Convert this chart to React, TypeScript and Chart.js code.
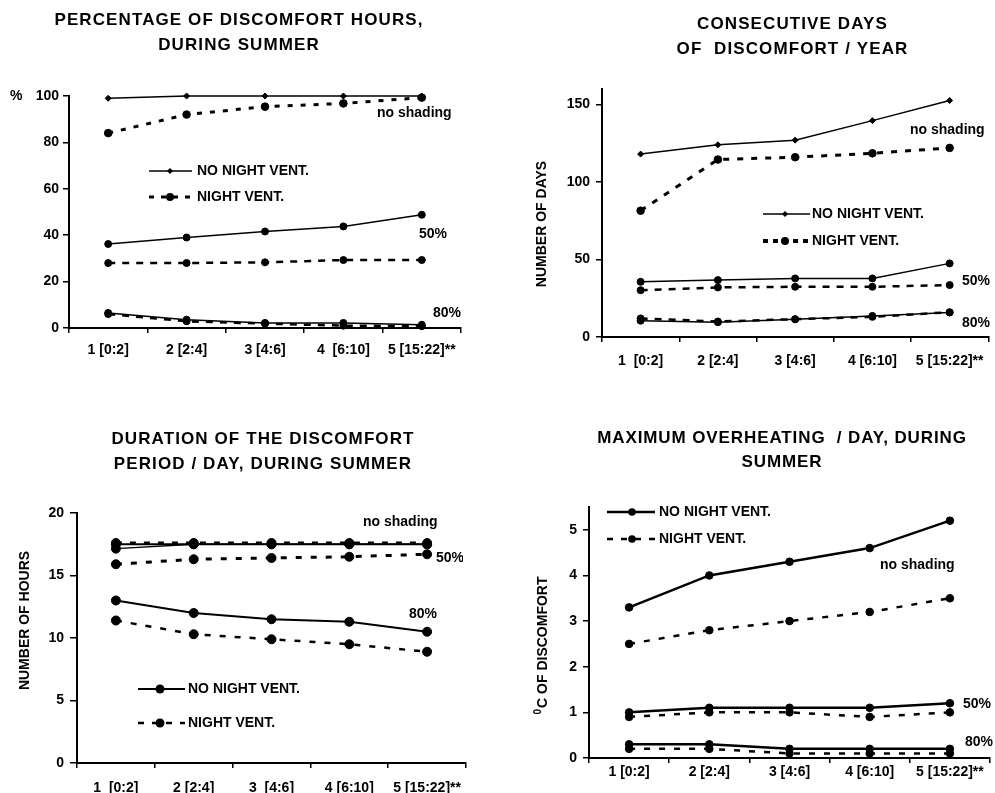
import React, { useEffect, useRef } from 'react';
import { Chart, registerables } from 'chart.js';

Chart.register(...registerables);

const FONT = '"Liberation Sans", Arial, Helvetica, sans-serif';

// ---------- DATA ----------
const CATS_1 = ['1 [0:2]', '2 [2:4]', '3 [4:6]', '4  [6:10]', '5 [15:22]**'];
const CATS_2 = ['1  [0:2]', '2 [2:4]', '3 [4:6]', '4 [6:10]', '5 [15:22]**'];
const CATS_3 = ['1  [0:2]', '2 [2:4]', '3  [4:6]', '4 [6:10]', '5 [15:22]**'];
const CATS_4 = ['1 [0:2]', '2 [2:4]', '3 [4:6]', '4 [6:10]', '5 [15:22]**'];

// Chart 1: percentage of discomfort hours (%)
const PCT_NONV_NOSHADE = [99, 100, 100, 100, 100];
const PCT_NV_NOSHADE = [84, 92, 95.4, 96.8, 99.3];
const PCT_NONV_50 = [36.2, 39, 41.6, 43.8, 48.8];
const PCT_NV_50 = [28, 28, 28.3, 29.3, 29.3];
const PCT_NONV_80 = [6.5, 3.6, 2.2, 2.2, 1.4];
const PCT_NV_80 = [6, 2.9, 1.9, 1, 0.8];

// Chart 2: consecutive days of discomfort / year
const DAYS_NONV_NOSHADE = [118, 124, 127, 139.6, 152.6];
const DAYS_NV_NOSHADE = [81.5, 114.5, 116, 118.5, 122];
const DAYS_NONV_50 = [35.6, 36.7, 37.8, 37.8, 47.5];
const DAYS_NV_50 = [30.2, 32, 32.4, 32.4, 33.5];
const DAYS_NONV_80 = [10.5, 9.5, 11.4, 13.6, 15.8];
const DAYS_NV_80 = [12, 10, 11.5, 13, 16];

// Chart 3: duration of discomfort period / day (hours)
const HRS_NONV_NOSHADE = [17.5, 17.5, 17.5, 17.5, 17.5];
const HRS_NV_NOSHADE = [17.6, 17.6, 17.6, 17.6, 17.6];
const HRS_NONV_50 = [17.15, 17.5, 17.5, 17.5, 17.5];
const HRS_NV_50 = [15.9, 16.3, 16.4, 16.5, 16.7];
const HRS_NONV_80 = [13.0, 12.0, 11.5, 11.3, 10.5];
const HRS_NV_80 = [11.4, 10.3, 9.9, 9.5, 8.9];

// Chart 4: maximum overheating / day (°C)
const DEG_NONV_NOSHADE = [3.3, 4.0, 4.3, 4.6, 5.2];
const DEG_NV_NOSHADE = [2.5, 2.8, 3.0, 3.2, 3.5];
const DEG_NONV_50 = [1.0, 1.1, 1.1, 1.1, 1.2];
const DEG_NV_50 = [0.9, 1.0, 1.0, 0.9, 1.0];
const DEG_NONV_80 = [0.3, 0.3, 0.2, 0.2, 0.2];
const DEG_NV_80 = [0.2, 0.2, 0.1, 0.1, 0.1];

const LEGEND_SOLID = 'NO NIGHT VENT.';
const LEGEND_DASHED = 'NIGHT VENT.';

// ---------- DECORATION PLUGIN ----------
function drawMarker(ctx, kind, x, y, r) {
  ctx.beginPath();
  if (kind === 'rectRot') {
    ctx.moveTo(x, y - r);
    ctx.lineTo(x + r, y);
    ctx.lineTo(x, y + r);
    ctx.lineTo(x - r, y);
    ctx.closePath();
  } else {
    ctx.arc(x, y, r, 0, Math.PI * 2);
  }
  ctx.fill();
}

const decorPlugin = {
  id: 'decor',
  afterDraw(chart, _args, o) {
    const ctx = chart.ctx;
    ctx.save();
    ctx.fillStyle = '#000';
    ctx.strokeStyle = '#000';
    // title
    if (o.title) {
      ctx.font = `bold 17px ${FONT}`;
      ctx.letterSpacing = `${o.title.spacing}px`;
      ctx.textAlign = 'center';
      ctx.textBaseline = 'middle';
      o.title.lines.forEach((t, i) => ctx.fillText(t, o.title.x, o.title.y[i]));
      ctx.letterSpacing = '0px';
    }
    // unit label
    if (o.unit) {
      ctx.font = `bold 14px ${FONT}`;
      ctx.textAlign = 'left';
      ctx.textBaseline = 'middle';
      ctx.fillText(o.unit.text, o.unit.x, o.unit.y);
    }
    // rotated y title
    if (o.yTitle) {
      ctx.save();
      ctx.translate(o.yTitle.x, o.yTitle.y);
      ctx.rotate(-Math.PI / 2);
      ctx.textBaseline = 'middle';
      ctx.textAlign = 'left';
      ctx.font = `bold 14px ${FONT}`;
      const wMain = ctx.measureText(o.yTitle.text).width;
      let wSup = 0;
      if (o.yTitle.sup) {
        ctx.font = `bold 10px ${FONT}`;
        wSup = ctx.measureText(o.yTitle.sup).width + 1;
      }
      const start = -(wMain + wSup) / 2;
      if (o.yTitle.sup) {
        ctx.fillText(o.yTitle.sup, start, -5);
      }
      ctx.font = `bold 14px ${FONT}`;
      ctx.fillText(o.yTitle.text, start + wSup, 0);
      ctx.restore();
    }
    // legend
    if (o.legend) {
      ctx.font = `bold 14px ${FONT}`;
      ctx.textAlign = 'left';
      ctx.textBaseline = 'middle';
      o.legend.forEach((it) => {
        ctx.save();
        ctx.lineWidth = it.width;
        ctx.setLineDash(it.dash || []);
        ctx.beginPath();
        ctx.moveTo(it.x1, it.y);
        ctx.lineTo(it.x2, it.y);
        ctx.stroke();
        ctx.restore();
        drawMarker(ctx, it.marker, it.mx, it.y, it.r);
        ctx.fillText(it.text, it.tx, it.y);
      });
    }
    // notes
    if (o.notes) {
      ctx.font = `bold 14px ${FONT}`;
      ctx.textAlign = 'left';
      ctx.textBaseline = 'middle';
      o.notes.forEach((n) => {
        ctx.save();
        if (n.clipRight) {
          ctx.beginPath();
          ctx.rect(0, 0, n.clipRight, chart.height);
          ctx.clip();
        }
        ctx.fillText(n.text, n.x, n.y);
        ctx.restore();
      });
    }
    ctx.restore();
  },
};

// ---------- CONFIG BUILDER ----------
function makeConfig(spec) {
  const datasets = spec.series.map((s) => ({
    data: s.data,
    borderColor: '#000',
    backgroundColor: '#000',
    pointBackgroundColor: '#000',
    pointBorderColor: '#000',
    borderWidth: s.width,
    borderDash: s.dash || [],
    pointStyle: s.marker,
    pointRadius: s.r,
    pointBorderWidth: 1,
    tension: 0,
    fill: false,
    clip: false,
  }));
  return {
    type: 'line',
    data: { labels: spec.labels, datasets },
    plugins: [decorPlugin],
    options: {
      responsive: false,
      animation: false,
      events: [],
      devicePixelRatio: 1,
      layout: { padding: spec.padding },
      plugins: {
        legend: { display: false },
        title: { display: false },
        tooltip: { enabled: false },
        decor: spec.decor,
      },
      scales: {
        x: {
          type: 'category',
          offset: true,
          grid: {
            display: true,
            drawOnChartArea: false,
            drawTicks: true,
            tickLength: 5,
            color: '#000',
            lineWidth: 1.5,
            offset: true,
          },
          border: { display: true, color: '#000', width: 2 },
          ticks: {
            color: '#000',
            font: { family: FONT, size: 14, weight: 'bold' },
            padding: spec.xPad,
            maxRotation: 0,
            autoSkip: false,
          },
          afterFit: (scale) => {
            scale.height = spec.xHeight;
          },
        },
        y: {
          type: 'linear',
          min: spec.yMin,
          max: spec.yMax,
          grid: {
            display: true,
            drawOnChartArea: false,
            drawTicks: true,
            tickLength: spec.yTickLen,
            color: '#000',
            lineWidth: 1.5,
          },
          border: { display: true, color: '#000', width: 2 },
          ticks: {
            stepSize: spec.yStep,
            includeBounds: false,
            color: '#000',
            font: { family: FONT, size: 14, weight: 'bold' },
            padding: spec.yPad,
          },
          afterFit: (scale) => {
            scale.width = spec.yWidth;
          },
        },
      },
    },
  };
}

// ---------- SPECS ----------
const spec1 = {
  labels: CATS_1,
  series: [
    { data: PCT_NONV_NOSHADE, width: 1.5, marker: 'rectRot', r: 3 },
    { data: PCT_NV_NOSHADE, width: 3, dash: [5, 8], marker: 'circle', r: 3.8 },
    { data: PCT_NONV_50, width: 1.5, marker: 'circle', r: 3.5 },
    { data: PCT_NV_50, width: 2.5, dash: [7, 7], marker: 'circle', r: 3.5 },
    { data: PCT_NONV_80, width: 1.5, marker: 'circle', r: 3.5 },
    { data: PCT_NV_80, width: 2.5, dash: [7, 7], marker: 'circle', r: 3.5 },
  ],
  yMin: 0, yMax: 100, yStep: 20,
  yWidth: 69, xHeight: 40, xPad: 9, yTickLen: 6, yPad: 4,
  padding: { left: 0, top: 96, right: 36, bottom: 28 },
  decor: {
    title: { lines: ['PERCENTAGE OF DISCOMFORT HOURS,', 'DURING SUMMER'], x: 239, y: [20.5, 45], spacing: 1.1 },
    unit: { text: '%', x: 10, y: 96 },
    legend: [
      { text: LEGEND_SOLID, y: 171, x1: 149, x2: 192, mx: 170, tx: 197, width: 1.5, marker: 'rectRot', r: 3 },
      { text: LEGEND_DASHED, y: 197, x1: 149, x2: 192, mx: 170, tx: 197, width: 3, dash: [5, 7], marker: 'circle', r: 4 },
    ],
    notes: [
      { text: 'no shading', x: 377, y: 113 },
      { text: '50%', x: 419, y: 234 },
      { text: '80%', x: 433, y: 313 },
    ],
  },
};

const spec2 = {
  labels: CATS_2,
  series: [
    { data: DAYS_NONV_NOSHADE, width: 1.5, marker: 'rectRot', r: 3 },
    { data: DAYS_NV_NOSHADE, width: 3, dash: [6, 8], marker: 'circle', r: 3.8 },
    { data: DAYS_NONV_50, width: 1.5, marker: 'circle', r: 3.5 },
    { data: DAYS_NV_50, width: 2.5, dash: [7, 7], marker: 'circle', r: 3.5 },
    { data: DAYS_NONV_80, width: 1.5, marker: 'circle', r: 3.5 },
    { data: DAYS_NV_80, width: 2.5, dash: [7, 7], marker: 'circle', r: 3.5 },
  ],
  yMin: 0, yMax: 160, yStep: 50,
  yWidth: 105, xHeight: 40, xPad: 11, yTickLen: 6, yPad: 6,
  padding: { left: 0, top: 89, right: 3, bottom: 19 },
  decor: {
    title: { lines: ['CONSECUTIVE DAYS', 'OF  DISCOMFORT / YEAR'], x: 295.5, y: [24.5, 49], spacing: 1.1 },
    yTitle: { text: 'NUMBER OF DAYS', x: 44.7, y: 224 },
    legend: [
      { text: LEGEND_SOLID, y: 214, x1: 266, x2: 313, mx: 288, tx: 315, width: 1.5, marker: 'rectRot', r: 3 },
      { text: LEGEND_DASHED, y: 241, x1: 266, x2: 313, mx: 288, tx: 315, width: 4, dash: [5, 5], marker: 'circle', r: 4 },
    ],
    notes: [
      { text: 'no shading', x: 413, y: 130 },
      { text: '50%', x: 465, y: 281 },
      { text: '80%', x: 465, y: 323 },
    ],
  },
};

const spec3 = {
  labels: CATS_3,
  series: [
    { data: HRS_NONV_NOSHADE, width: 2, marker: 'circle', r: 4.5 },
    { data: HRS_NV_NOSHADE, width: 3, dash: [6, 8], marker: 'circle', r: 4.5 },
    { data: HRS_NONV_50, width: 1.5, marker: 'circle', r: 4.5 },
    { data: HRS_NV_50, width: 3, dash: [6, 9], marker: 'circle', r: 4.5 },
    { data: HRS_NONV_80, width: 2, marker: 'circle', r: 4.5 },
    { data: HRS_NV_80, width: 2.5, dash: [6, 9], marker: 'circle', r: 4.5 },
  ],
  yMin: 0, yMax: 20, yStep: 5,
  yWidth: 77, xHeight: 30, xPad: 12, yTickLen: 7, yPad: 6,
  padding: { left: 0, top: 117, right: 31, bottom: 0 },
  decor: {
    title: { lines: ['DURATION OF THE DISCOMFORT', 'PERIOD / DAY, DURING SUMMER'], x: 263, y: [43.7, 68], spacing: 1.1 },
    yTitle: { text: 'NUMBER OF HOURS', x: 25, y: 224.5 },
    legend: [
      { text: LEGEND_SOLID, y: 293, x1: 138, x2: 185, mx: 160, tx: 188, width: 2, marker: 'circle', r: 4.5 },
      { text: LEGEND_DASHED, y: 327, x1: 138, x2: 185, mx: 160, tx: 188, width: 2.5, dash: [6, 8], marker: 'circle', r: 4.5 },
    ],
    notes: [
      { text: 'no shading', x: 363, y: 126 },
      { text: '50%', x: 436, y: 162, clipRight: 463 },
      { text: '80%', x: 409, y: 218 },
    ],
  },
};

const spec4 = {
  labels: CATS_4,
  series: [
    { data: DEG_NONV_NOSHADE, width: 2.5, marker: 'circle', r: 3.8 },
    { data: DEG_NV_NOSHADE, width: 2.5, dash: [6, 9], marker: 'circle', r: 3.8 },
    { data: DEG_NONV_50, width: 2.5, marker: 'circle', r: 3.8 },
    { data: DEG_NV_50, width: 2.5, dash: [6, 9], marker: 'circle', r: 3.8 },
    { data: DEG_NONV_80, width: 2.5, marker: 'circle', r: 3.8 },
    { data: DEG_NV_80, width: 2.5, dash: [6, 9], marker: 'circle', r: 3.8 },
  ],
  yMin: 0, yMax: 5.5, yStep: 1,
  yWidth: 92, xHeight: 35, xPad: 1, yTickLen: 6, yPad: 6,
  padding: { left: 0, top: 111, right: 0, bottom: 0 },
  decor: {
    title: { lines: ['MAXIMUM OVERHEATING  / DAY, DURING', 'SUMMER'], x: 285, y: [42, 66], spacing: 0.9 },
    yTitle: { text: 'C OF DISCOMFORT', sup: '0', x: 46, y: 249.5 },
    legend: [
      { text: LEGEND_SOLID, y: 116, x1: 110, x2: 158, mx: 135, tx: 162, width: 2.5, marker: 'circle', r: 3.8 },
      { text: LEGEND_DASHED, y: 143, x1: 110, x2: 158, mx: 135, tx: 162, width: 2.5, dash: [6, 8], marker: 'circle', r: 3.8 },
    ],
    notes: [
      { text: 'no shading', x: 383, y: 169 },
      { text: '50%', x: 466, y: 308 },
      { text: '80%', x: 468, y: 346 },
    ],
  },
};

// ---------- COMPONENTS ----------
function ChartBox({ spec, left, top, width, height }) {
  const ref = useRef(null);
  useEffect(() => {
    const chart = new Chart(ref.current, makeConfig(spec));
    return () => chart.destroy();
  }, [spec]);
  return (
    <canvas
      ref={ref}
      width={width}
      height={height}
      style={{ position: 'absolute', left, top, width, height, display: 'block' }}
    />
  );
}

export default function App() {
  return (
    <div style={{ position: 'absolute', left: 0, top: 0, width: 995, height: 793, background: '#fff', overflow: 'hidden' }}>
      <ChartBox spec={spec1} left={0} top={0} width={497} height={396} />
      <ChartBox spec={spec2} left={497} top={0} width={498} height={396} />
      <ChartBox spec={spec3} left={0} top={396} width={497} height={397} />
      <ChartBox spec={spec4} left={497} top={396} width={498} height={397} />
    </div>
  );
}
